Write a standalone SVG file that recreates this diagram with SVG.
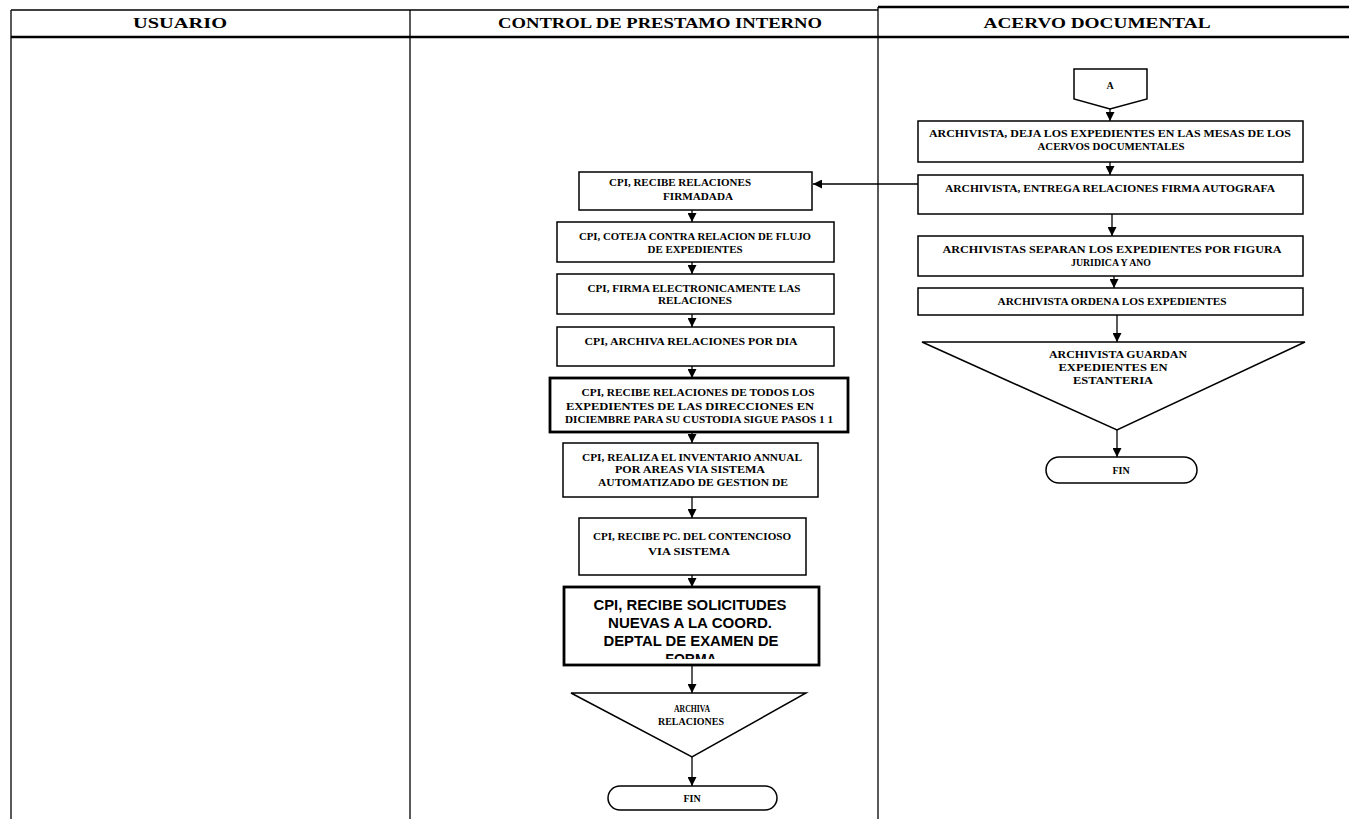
<svg xmlns="http://www.w3.org/2000/svg" width="1349" height="819" viewBox="0 0 1349 819">
<style>
.grid{stroke:#000;stroke-width:1.3;fill:none}
.gthick{stroke:#000;stroke-width:2.5;fill:none}
.box{fill:#fff;stroke:#000;stroke-width:1.5}
.bthick{fill:#fff;stroke:#000;stroke-width:2.8}
.t{font-family:"Liberation Serif",serif;font-weight:bold;font-size:10px;text-anchor:middle;fill:#000}
.h{font-family:"Liberation Serif",serif;font-weight:bold;font-size:15px;text-anchor:middle;fill:#000}
.s{font-family:"Liberation Sans",Arial,sans-serif;font-weight:bold;font-size:14px;text-anchor:middle;fill:#000}
.conn{stroke:#000;stroke-width:1.3;fill:none;marker-end:url(#ah)}
</style>
<defs>
<marker id="ah" markerUnits="userSpaceOnUse" markerWidth="9" markerHeight="9" refX="9" refY="4.5" orient="auto">
<path d="M0,0 L9,4.5 L0,9 Z" fill="#000"/>
</marker>
<clipPath id="c8"><rect x="565" y="589" width="253" height="70"/></clipPath>
</defs>
<rect width="1349" height="819" fill="#fff"/>
<g id="table">
<line class="grid" x1="11" y1="10" x2="878" y2="10"/>
<line class="gthick" x1="878" y1="7" x2="1349" y2="7"/>
<line class="gthick" x1="11" y1="37" x2="1349" y2="37"/>
<line class="grid" x1="11" y1="10" x2="11" y2="819"/>
<line class="grid" x1="410" y1="10" x2="410" y2="819"/>
<line class="grid" x1="878" y1="7" x2="878" y2="819"/>
<text class="h" x="180" y="28" textLength="94" lengthAdjust="spacingAndGlyphs">USUARIO</text>
<text class="h" x="660" y="28" textLength="324" lengthAdjust="spacingAndGlyphs">CONTROL DE PRESTAMO INTERNO</text>
<text class="h" x="1097" y="28" textLength="227" lengthAdjust="spacingAndGlyphs">ACERVO DOCUMENTAL</text>
</g>
<g id="connectors">
<line class="conn" x1="692" y1="210" x2="692" y2="222"/>
<line class="conn" x1="692" y1="262" x2="692" y2="274"/>
<line class="conn" x1="692" y1="314" x2="692" y2="327"/>
<line class="conn" x1="692" y1="366" x2="692" y2="378"/>
<line class="conn" x1="692" y1="432" x2="692" y2="443"/>
<line class="conn" x1="692" y1="497" x2="692" y2="518"/>
<line class="conn" x1="692" y1="575" x2="692" y2="587"/>
<line class="conn" x1="692" y1="665" x2="692" y2="693"/>
<line class="conn" x1="692" y1="757" x2="692" y2="786"/>
<line class="conn" x1="918" y1="184" x2="813" y2="184"/>
<line class="conn" x1="1110" y1="109" x2="1110" y2="121"/>
<line class="conn" x1="1110" y1="162" x2="1110" y2="175"/>
<line class="conn" x1="1112" y1="214" x2="1112" y2="236"/>
<line class="conn" x1="1114" y1="276" x2="1114" y2="288"/>
<line class="conn" x1="1117" y1="315" x2="1117" y2="342"/>
<line class="conn" x1="1117" y1="430" x2="1117" y2="457"/>
</g>
<g id="n1">
<rect class="box" x="579" y="172" width="233" height="38"/>
<text class="t" x="680" y="186" textLength="142" lengthAdjust="spacingAndGlyphs">CPI, RECIBE RELACIONES</text>
<text class="t" x="698" y="200" textLength="70" lengthAdjust="spacingAndGlyphs">FIRMADADA</text>
</g>
<g id="n2">
<rect class="box" x="557" y="222" width="277" height="40"/>
<text class="t" x="695" y="240" textLength="232" lengthAdjust="spacingAndGlyphs">CPI, COTEJA CONTRA RELACION DE FLUJO</text>
<text class="t" x="695" y="253" textLength="95" lengthAdjust="spacingAndGlyphs">DE EXPEDIENTES</text>
</g>
<g id="n3">
<rect class="box" x="557" y="274" width="277" height="40"/>
<text class="t" x="694" y="292" textLength="213" lengthAdjust="spacingAndGlyphs">CPI, FIRMA ELECTRONICAMENTE LAS</text>
<text class="t" x="695" y="304" textLength="74" lengthAdjust="spacingAndGlyphs">RELACIONES</text>
</g>
<g id="n4">
<rect class="box" x="557" y="327" width="277" height="39"/>
<text class="t" x="691" y="345" textLength="213" lengthAdjust="spacingAndGlyphs">CPI, ARCHIVA RELACIONES POR DIA</text>
</g>
<g id="n5">
<rect class="bthick" x="550" y="378" width="298" height="54"/>
<text class="t" x="698" y="396" textLength="233" lengthAdjust="spacingAndGlyphs">CPI, RECIBE RELACIONES DE TODOS  LOS</text>
<text class="t" x="690" y="410" textLength="248" lengthAdjust="spacingAndGlyphs">EXPEDIENTES DE  LAS DIRECCIONES EN</text>
<text class="t" x="699" y="423" textLength="268" lengthAdjust="spacingAndGlyphs">DICIEMBRE PARA SU CUSTODIA SIGUE PASOS 1 1</text>
</g>
<g id="n6">
<rect class="box" x="563" y="443" width="255" height="54"/>
<text class="t" x="692" y="461" textLength="220" lengthAdjust="spacingAndGlyphs">CPI, REALIZA EL INVENTARIO ANNUAL</text>
<text class="t" x="690" y="473" textLength="150" lengthAdjust="spacingAndGlyphs">POR AREAS VIA SISTEMA</text>
<text class="t" x="693" y="486" textLength="190" lengthAdjust="spacingAndGlyphs">AUTOMATIZADO DE GESTION DE</text>
</g>
<g id="n7">
<rect class="box" x="579" y="518" width="227" height="57"/>
<text class="t" x="692" y="540" textLength="198" lengthAdjust="spacingAndGlyphs">CPI, RECIBE PC. DEL CONTENCIOSO</text>
<text class="t" x="689" y="555" textLength="82" lengthAdjust="spacingAndGlyphs">VIA SISTEMA</text>
</g>
<g id="n8">
<rect class="bthick" x="564" y="587" width="255" height="78"/>
<g clip-path="url(#c8)">
<text class="s" x="690" y="610" textLength="193" lengthAdjust="spacingAndGlyphs">CPI, RECIBE  SOLICITUDES</text>
<text class="s" x="690" y="628" textLength="164" lengthAdjust="spacingAndGlyphs">NUEVAS A LA COORD.</text>
<text class="s" x="691" y="646" textLength="175" lengthAdjust="spacingAndGlyphs">DEPTAL DE EXAMEN DE</text>
<text class="s" x="691" y="664">FORMA</text>
</g>
</g>
<g id="n9">
<path class="box" d="M571,693 L806,693 L692,757 Z"/>
<text class="t" x="692" y="712" textLength="36" lengthAdjust="spacingAndGlyphs">ARCHIVA</text>
<text class="t" x="691" y="725" textLength="66" lengthAdjust="spacingAndGlyphs">RELACIONES</text>
</g>
<g id="n10">
<rect class="box" x="608" y="786" width="169" height="24" rx="12" ry="12"/>
<text class="t" x="692" y="802" font-size="9">FIN</text>
</g>
<g id="r0">
<path class="box" d="M1074,69 L1147,69 L1147,99 L1110,109 L1074,99 Z"/>
<text class="t" x="1110" y="89">A</text>
</g>
<g id="r1">
<rect class="box" x="918" y="121" width="385" height="41"/>
<text class="t" x="1110" y="137" textLength="362" lengthAdjust="spacingAndGlyphs">ARCHIVISTA, DEJA LOS EXPEDIENTES EN LAS MESAS DE LOS</text>
<text class="t" x="1111" y="150" textLength="147" lengthAdjust="spacingAndGlyphs">ACERVOS DOCUMENTALES</text>
</g>
<g id="r2">
<rect class="box" x="918" y="175" width="385" height="39"/>
<text class="t" x="1110" y="192" textLength="330" lengthAdjust="spacingAndGlyphs">ARCHIVISTA, ENTREGA RELACIONES FIRMA AUTOGRAFA</text>
</g>
<g id="r3">
<rect class="box" x="918" y="236" width="385" height="40"/>
<text class="t" x="1112" y="253" textLength="339" lengthAdjust="spacingAndGlyphs">ARCHIVISTAS  SEPARAN  LOS EXPEDIENTES POR FIGURA</text>
<text class="t" x="1111" y="266" textLength="80" lengthAdjust="spacingAndGlyphs">JURIDICA Y ANO</text>
</g>
<g id="r4">
<rect class="box" x="918" y="288" width="385" height="27"/>
<text class="t" x="1112" y="305" textLength="229" lengthAdjust="spacingAndGlyphs">ARCHIVISTA ORDENA LOS EXPEDIENTES</text>
</g>
<g id="r5">
<path class="box" d="M922,342 L1305,342 L1117,430 Z"/>
<text class="t" x="1118" y="358" textLength="138" lengthAdjust="spacingAndGlyphs">ARCHIVISTA GUARDAN</text>
<text class="t" x="1113" y="371" textLength="109" lengthAdjust="spacingAndGlyphs">EXPEDIENTES EN</text>
<text class="t" x="1113" y="384" textLength="80" lengthAdjust="spacingAndGlyphs">ESTANTERIA</text>
</g>
<g id="r6">
<rect class="box" x="1046" y="457" width="151" height="26" rx="13" ry="13"/>
<text class="t" x="1121" y="474" font-size="9">FIN</text>
</g>
</svg>
